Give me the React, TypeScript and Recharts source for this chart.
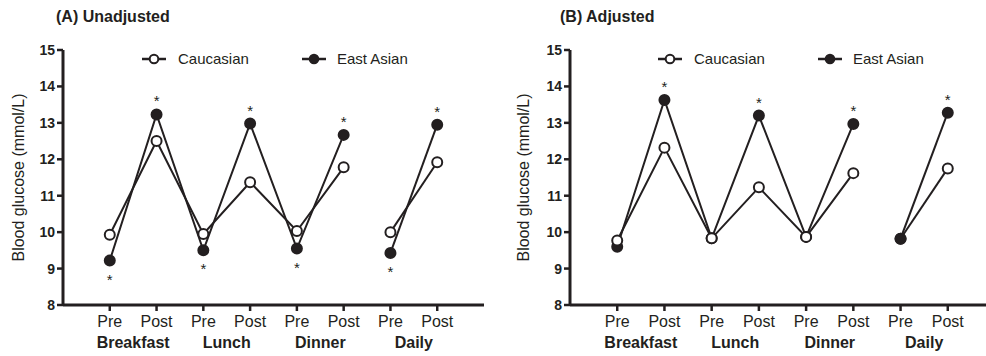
import React from 'react';
import { LineChart, Line, XAxis, YAxis, LabelList } from 'recharts';

const categories = ['Pre', 'Post', 'Pre', 'Post', 'Pre', 'Post', 'Pre', 'Post'];
const groupLabels = ['Breakfast', 'Lunch', 'Dinner', 'Daily'];
const seriesNames = ['Caucasian', 'East Asian'];
const yTicks = [8, 9, 10, 11, 12, 13, 14, 15];

const unadjCaucasian = [9.93, 12.5, 9.95, 11.37, 10.03, 11.78, 10.0, 11.92];
const unadjEastAsian = [9.22, 13.23, 9.5, 12.98, 9.55, 12.67, 9.43, 12.95];
const unadjSig = [true, true, true, true, true, true, true, true];

const adjCaucasian = [9.77, 12.32, 9.83, 11.23, 9.87, 11.62, 9.82, 11.75];
const adjEastAsian = [9.6, 13.63, 9.83, 13.2, 9.87, 12.97, 9.82, 13.28];
const adjSig = [false, true, false, true, false, true, false, true];

const FONT = '"Liberation Sans", Arial, Helvetica, sans-serif';
const INK = '#231f20';

function buildRows(cau: number[], ea: number[], sig: boolean[]) {
  return categories.map((c, i) => ({
    x: i + 1,
    cat: c,
    cauMeal: i < 6 ? cau[i] : null,
    eaMeal: i < 6 ? ea[i] : null,
    cauDaily: i >= 6 ? cau[i] : null,
    eaDaily: i >= 6 ? ea[i] : null,
    sigMeal: i < 6 && sig[i] ? '*' : null,
    sigDaily: i >= 6 && sig[i] ? '*' : null,
  }));
}

const makeDot = (fill: string) => (props: any) => {
  const { cx, cy, index } = props;
  if (cx == null || cy == null || props.value == null) return <g key={index} />;
  return <circle key={index} cx={cx} cy={cy} r={5} fill={fill} stroke={INK} strokeWidth={2} />;
};

const starContent = (props: any) => {
  const { x, y, value, index } = props;
  if (!value || x == null || y == null || isNaN(y)) return null;
  const isPre = index % 2 === 0;
  return (
    <text
      key={`s${index}`}
      x={x}
      y={isPre ? y + 24 : y - 8}
      textAnchor="middle"
      fontSize={15}
      fontFamily={FONT}
      fill={INK}
    >
      {value}
    </text>
  );
};

function LegendIcon({ filled }: { filled: boolean }) {
  return (
    <svg width={24} height={12} style={{ display: 'block' }}>
      <line x1={0} y1={6} x2={24} y2={6} stroke={INK} strokeWidth={2.5} />
      <circle cx={12} cy={6} r={4.3} fill={filled ? INK : '#fff'} stroke={INK} strokeWidth={2} />
    </svg>
  );
}

function Panel(props: {
  title: string;
  cau: number[];
  ea: number[];
  sig: boolean[];
  left: number;
  width: number;
  yAxisWidth: number;
  labelOffset: number;
  rightMargin: number;
  legendLeft: number;
  legendGap: number;
  titleLeft: number;
  eaOnTopDaily: boolean;
}) {
  const data = buildRows(props.cau, props.ea, props.sig);
  const lineCommon = {
    type: 'linear' as const,
    stroke: INK,
    strokeWidth: 2,
    isAnimationActive: false,
    connectNulls: false,
    activeDot: false as const,
  };
  return (
    <div style={{ position: 'absolute', left: props.left, top: 0, width: props.width, height: 356 }}>
      <div
        style={{
          position: 'absolute',
          left: props.titleLeft,
          top: 8,
          fontFamily: FONT,
          fontWeight: 'bold',
          fontSize: 16,
          color: INK,
          whiteSpace: 'nowrap',
        }}
      >
        {props.title}
      </div>
      <div
        style={{
          position: 'absolute',
          left: props.legendLeft,
          top: 50,
          display: 'flex',
          alignItems: 'center',
          fontFamily: FONT,
          fontSize: 15,
          color: INK,
          whiteSpace: 'nowrap',
          zIndex: 2,
        }}
      >
        <LegendIcon filled={false} />
        <span style={{ marginLeft: 12 }}>{seriesNames[0]}</span>
        <span style={{ width: props.legendGap }} />
        <LegendIcon filled={true} />
        <span style={{ marginLeft: 11 }}>{seriesNames[1]}</span>
      </div>
      <LineChart
        width={props.width}
        height={356}
        data={data}
        margin={{ top: 50, right: props.rightMargin, left: 0, bottom: 0 }}
        style={{ position: 'absolute', left: 0, top: 0 }}
      >
        <XAxis
          dataKey="x"
          type="number"
          domain={[0, 9]}
          ticks={[1, 2, 3, 4, 5, 6, 7, 8]}
          tickFormatter={(v: number) => categories[v - 1]}
          interval={0}
          height={22}
          axisLine={{ stroke: INK, strokeWidth: 3 }}
          tickLine={{ stroke: INK, strokeWidth: 2.5 }}
          tickSize={6}
          tickMargin={5}
          tick={{ fontSize: 16, fill: INK, fontFamily: FONT }}
          allowDataOverflow
        />
        <XAxis
          xAxisId="grp"
          dataKey="x"
          type="number"
          domain={[0, 9]}
          ticks={[1.5, 3.5, 5.5, 7.5]}
          tickFormatter={(v: number) => groupLabels[Math.round((v - 1.5) / 2)]}
          interval={0}
          height={29}
          axisLine={false}
          tickLine={false}
          tickSize={0}
          tickMargin={10}
          tick={{ fontSize: 16, fill: INK, fontFamily: FONT, fontWeight: 'bold' }}
          allowDataOverflow
        />
        <YAxis
          type="number"
          domain={[8, 15]}
          ticks={yTicks}
          interval={0}
          width={props.yAxisWidth}
          axisLine={{ stroke: INK, strokeWidth: 3 }}
          tickLine={{ stroke: INK, strokeWidth: 2.5 }}
          tickSize={6}
          tickMargin={2}
          tick={{ fontSize: 14, fill: INK, fontFamily: FONT, fontWeight: 'bold' }}
          label={{
            value: 'Blood glucose (mmol/L)',
            angle: -90,
            position: 'insideLeft',
            offset: props.labelOffset,
            style: { textAnchor: 'middle', fontSize: 16, fill: INK, fontFamily: FONT },
          }}
        />
        <Line {...lineCommon} dataKey="eaMeal" dot={makeDot(INK)}>
          <LabelList dataKey="sigMeal" content={starContent} />
        </Line>
        <Line {...lineCommon} dataKey="cauMeal" dot={makeDot('#fff')} />
        {props.eaOnTopDaily ? (
          <Line {...lineCommon} dataKey="cauDaily" dot={makeDot('#fff')} />
        ) : null}
        <Line {...lineCommon} dataKey="eaDaily" dot={makeDot(INK)}>
          <LabelList dataKey="sigDaily" content={starContent} />
        </Line>
        {!props.eaOnTopDaily ? (
          <Line {...lineCommon} dataKey="cauDaily" dot={makeDot('#fff')} />
        ) : null}
      </LineChart>
    </div>
  );
}

export default function App() {
  return (
    <div
      style={{
        position: 'absolute',
        left: 0,
        top: 0,
        width: 986,
        height: 356,
        overflow: 'hidden',
        background: '#fff',
      }}
    >
      <Panel
        title="(A) Unadjusted"
        cau={unadjCaucasian}
        ea={unadjEastAsian}
        sig={unadjSig}
        left={0}
        width={493}
        yAxisWidth={63}
        labelOffset={18}
        rightMargin={9}
        legendLeft={142}
        legendGap={53}
        titleLeft={56}
        eaOnTopDaily={false}
      />
      <Panel
        title="(B) Adjusted"
        cau={adjCaucasian}
        ea={adjEastAsian}
        sig={adjSig}
        left={493}
        width={502}
        yAxisWidth={77}
        labelOffset={30}
        rightMargin={0}
        legendLeft={165}
        legendGap={53}
        titleLeft={67}
        eaOnTopDaily={true}
      />
    </div>
  );
}
